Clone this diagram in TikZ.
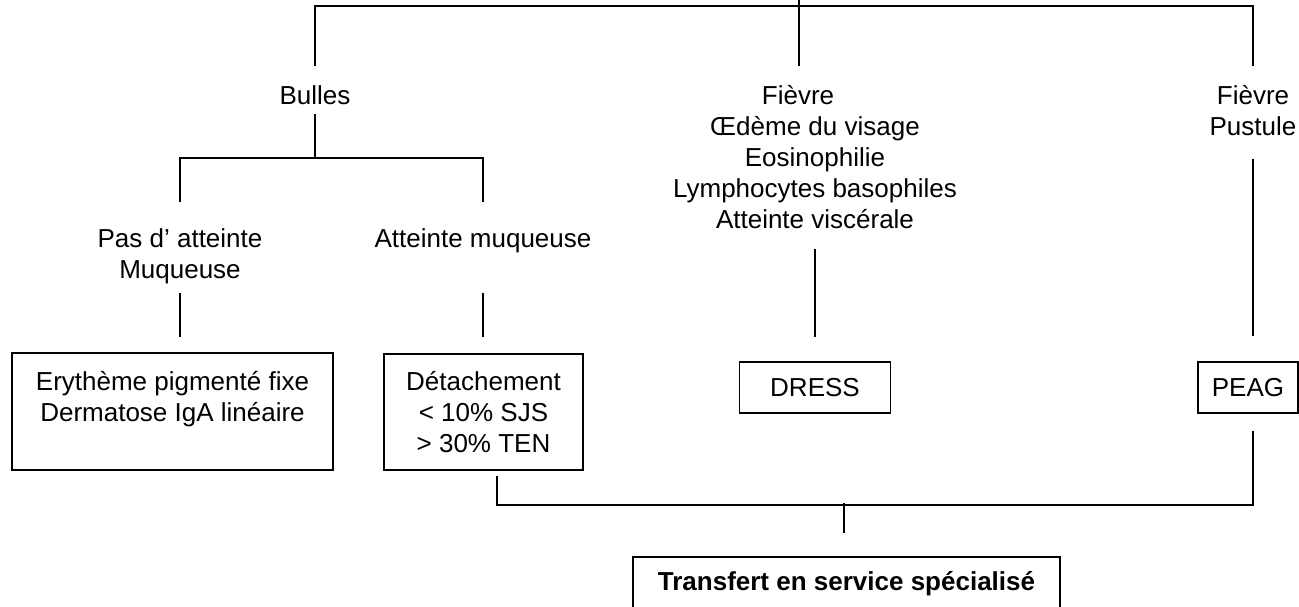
\documentclass[tikz,border=0pt]{standalone}
\usepackage{fontspec}
\setmainfont{Liberation Sans}
\usetikzlibrary{positioning,calc}

\tikzset{
  txt/.style={align=center, inner sep=0pt, font=\fontsize{26}{31}\selectfont},
  boite/.style={rectangle, draw, line width=1.5pt, align=center, inner sep=0pt,
    font=\fontsize{26}{31}\selectfont},
  lien/.style={line width=1.5pt}
}

\begin{document}
\begin{tikzpicture}[x=1pt, y=-1pt]
\useasboundingbox (0,0) rectangle (1299,606);

%% -- niveau 1 --
\coordinate (haut) at (799,0);
\node[txt, anchor=base]  (bulles)  at (315,104.4) {Bulles};
\node[txt, anchor=north] (fievre)  at (815,85) {Fièvre\hspace*{34pt}\\Œdème du visage\\Eosinophilie\\Lymphocytes basophiles\\Atteinte viscérale};
\node[txt, anchor=north] (pustule) at (1253,85) {Fièvre\\Pustule};

%% -- niveau 2 (bulles) --
\node[txt, anchor=north] (pasatt) at (180,228.3) {Pas d’ atteinte\\Muqueuse};
\node[txt, anchor=base]  (attmuq) at (483,247.3) {Atteinte muqueuse};

%% -- boites --
\node[boite, minimum width=321, minimum height=117] (erythem) at (172.5,411.5)
  {Erythème pigmenté fixe\\Dermatose IgA linéaire\\\mbox{}};
\node[boite, minimum width=199, minimum height=116] (detach) at (483.5,412)
  {Détachement\\< 10\% SJS\\> 30\% TEN};
\node[boite, minimum width=151, minimum height=51] (dress) at (815,387.5) {DRESS};
\node[boite, minimum width=100, minimum height=51] (peag) at (1248,387.5) {PEAG};
\node[boite, minimum width=427, minimum height=53, font=\fontsize{26}{31}\selectfont\bfseries]
  (transfert) at (846.5,583.5) {Transfert en service spécialisé};

%% -- liens niveau 1 --
\draw[lien] (haut) -- ($(haut)+(0,66)$);
\draw[lien] ($(bulles.north)+(0,-19)$) |- ($(haut)+(0,6)$) -| ($(pustule.north)+(0,-19)$);

%% -- liens bulles --
\draw[lien] ($(bulles.south)+(0,9)$) -- ++(0,44) coordinate (jbulles);
\draw[lien] ($(pasatt.north)+(0,-26)$) |- (jbulles) -| ($(attmuq.north)+(0,-26)$);
\draw[lien] ($(pasatt.south)+(0,9)$) -- ($(pasatt.south |- erythem.north)+(0,-15)$);
\draw[lien] ($(attmuq.south)+(0,40)$) -- ($(attmuq.south |- detach.north)+(0,-16)$);

%% -- liens DRESS / PEAG --
\draw[lien] ($(fievre.south)+(0,20)$) -- ($(dress.north)+(0,-24)$);
\draw[lien] ($(pustule.south)+(0,23)$) -- ($(pustule.south |- peag.north)+(0,-25)$);

%% -- vers transfert --
\draw[lien] ($(detach.south)+(13.5,5)$) |- ($(peag.south)+(5,91)$) -- ($(peag.south)+(5,17)$);
\draw[lien] ($(transfert.north)+(-2.5,-53)$) -- ($(transfert.north)+(-2.5,-23)$);

\end{tikzpicture}
\end{document}
